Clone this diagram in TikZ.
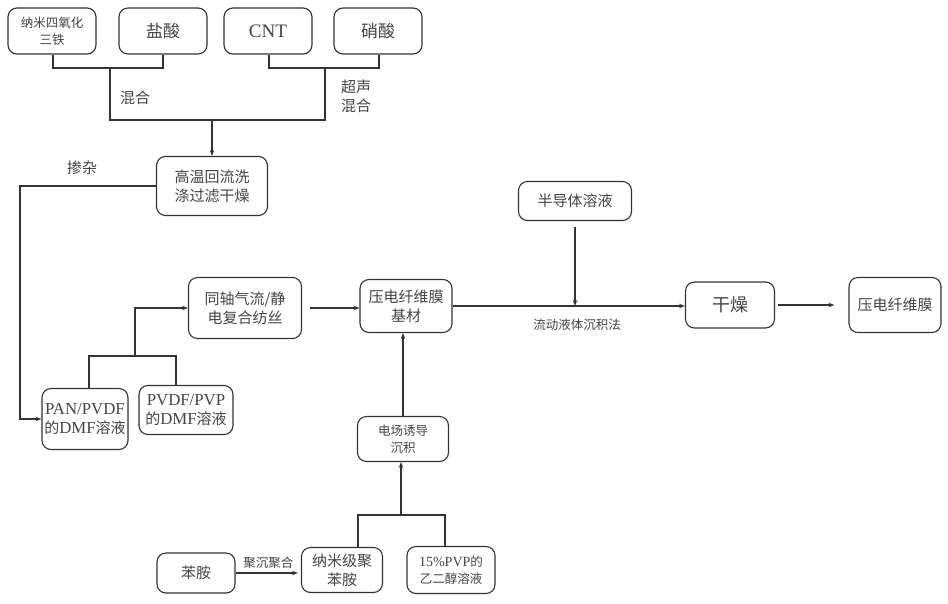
\documentclass[tikz,border=0pt]{standalone}
\usepackage{fontspec}
\setmainfont{Noto Sans CJK SC}
\newfontfamily\lat[Scale=1.12]{Liberation Serif}
\usetikzlibrary{arrows.meta}
\definecolor{ink}{HTML}{333333}
\definecolor{txt}{HTML}{444444}
\tikzset{
  box/.style={draw=ink, line width=1.1pt, rounded corners=9pt, align=center, text=txt, inner sep=1pt},
  ln/.style={draw=ink, line width=1.1pt},
  arr/.style={ln, -{Stealth[length=6pt,width=4.5pt]}},
  lbl/.style={text=txt, align=center, inner sep=0pt},
  fa/.style={font=\fontsize{17}{20}\selectfont},
  fb/.style={font=\fontsize{15}{19}\selectfont},
  fc/.style={font=\fontsize{12.5}{17}\selectfont},
}
\begin{document}
\begin{tikzpicture}[x=1pt,y=-1pt]
\useasboundingbox[fill=white] (0,0) rectangle (948,603);
% top row
\node[box,fc,minimum width=88pt,minimum height=46pt] (n1) at (52,31) {纳米四氧化\\三铁};
\node[box,fa,minimum width=88pt,minimum height=46pt] (n2) at (163,31) {盐酸};
\node[box,fa,minimum width=88pt,minimum height=46pt] (n3) at (268,31) {\lat CNT};
\node[box,fa,minimum width=88pt,minimum height=46pt] (n4) at (378,31) {硝酸};
\node[box,fb,minimum width=111pt,minimum height=59pt] (wash) at (212,186) {高温回流洗\\涤过滤干燥};
% middle
\node[box,fb,minimum width=113pt,minimum height=61pt] (coax) at (245,308) {同轴气流/静\\电复合纺丝};
\node[box,fb,minimum width=92pt,minimum height=53pt] (base) at (406,306) {压电纤维膜\\基材};
\node[box,fb,minimum width=86pt,minimum height=61pt] (pan) at (85,419) {{\lat PAN/PVDF}\\的{\lat DMF}溶液};
\node[box,fb,minimum width=94pt,minimum height=49pt] (pvp) at (186,410) {{\lat PVDF/PVP}\\的{\lat DMF}溶液};
\node[box,fc,minimum width=91pt,minimum height=45pt] (field) at (403,439) {电场诱导\\沉积};
% bottom
\node[box,fb,minimum width=78pt,minimum height=40pt] (aniline) at (196,573) {苯胺};
\node[box,fb,minimum width=81pt,minimum height=45pt] (nano) at (342,570) {纳米级聚\\苯胺};
\node[box,fc,minimum width=88pt,minimum height=47pt] (peg) at (451,570) {{\lat 15\%PVP}的\\乙二醇溶液};
% right
\node[box,fb,minimum width=113pt,minimum height=39pt] (semi) at (575,201) {半导体溶液};
\node[box,font=\fontsize{18}{20}\selectfont,minimum width=89pt,minimum height=46pt] (dry) at (730,305) {干燥};
\node[box,fb,minimum width=92pt,minimum height=55pt] (final) at (895,305) {压电纤维膜};

% top merges
\coordinate (a1) at (53,68);
\coordinate (a2) at (163,68);
\coordinate (jL) at (110,68);
\coordinate (b1) at (269,68);
\coordinate (b2) at (379,68);
\coordinate (jR) at (325,68);
\coordinate (kL) at (110,120);
\coordinate (kR) at (325,120);
\coordinate (kM) at (212,120);
\draw[ln] (n1.south -| a1) -- (a1) -- (a2) -- (n2.south -| a2);
\draw[ln] (n3.south -| b1) -- (b1) -- (b2) -- (n4.south -| b2);
\draw[ln] (jL) -- (kL) -- (kR) -- (jR);
\draw[arr] (kM) -- (wash.north);
\node[lbl,fb] (mix) at (135,98) {混合};
\node[lbl,fb] (umix) at (356,96) {超声\\混合};

% doping
\coordinate (d1) at (20,186);
\draw[arr] (wash.west) -- (d1) |- (pan.west);
\node[lbl,fb] (dope) at (82,168) {掺杂};

% spinning solutions
\coordinate (p1) at (89,356);
\coordinate (p2) at (176,356);
\coordinate (p3) at (135,356);
\draw[ln] (pan.north -| p1) -- (p1) -- (p2) -- (pvp.north -| p2);
\draw[arr] (p3) |- (coax.west);
\draw[arr,shorten <=8pt] (coax.east) -- (coax.east -| base.west);

% deposition
\draw[arr] (field.north) -- (field.north |- base.south);
\coordinate (q1) at (358,515);
\coordinate (q2) at (445,515);
\coordinate (q3) at (401,515);
\draw[ln] (nano.north -| q1) -- (q1) -- (q2) -- (peg.north -| q2);
\draw[arr] (q3) -- (q3 |- field.south);
\draw[arr,shorten >=3pt] (aniline.east) -- (aniline.east -| nano.west) node[lbl,fc,midway,above=4pt] (poly) {聚沉聚合};

% right chain
\draw[arr] (base.east) -- (base.east -| dry.west);
\draw[arr,shorten <=6pt] (semi.south) -- (semi.south |- base.east);
\node[lbl,fc] (flow) at (577,325) {流动液体沉积法};
\draw[arr,shorten <=3pt,shorten >=14pt] (dry.east) -- (dry.east -| final.west);
\end{tikzpicture}
\end{document}
